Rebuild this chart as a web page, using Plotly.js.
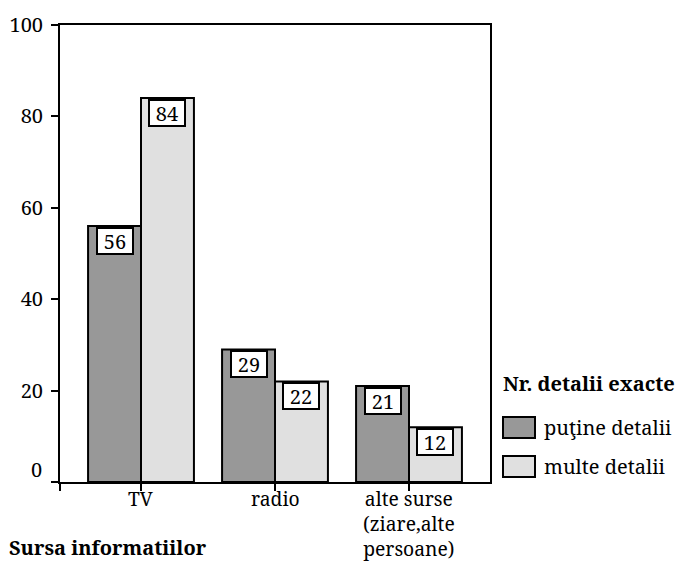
<!DOCTYPE html>
<html>
<head>
<meta charset="utf-8">
<script src="https://cdn.plot.ly/plotly-3.0.1.min.js"></script>
<style>
  html, body { margin: 0; padding: 0; background: #ffffff; }
  #chart { width: 677px; height: 561px; }
</style>
</head>
<body>
<div id="chart"></div>
<script>
// Sursa informatiilor vs. numarul de detalii exacte
const categories = ['TV', 'radio', 'alte surse<br>(ziare,alte<br>persoane)'];
const seriesNames = ['puţine detalii', 'multe detalii'];
const putineDetalii = [56, 29, 21];
const multeDetalii = [84, 22, 12];
const yTickValues = [0, 20, 40, 60, 80, 100];
const legendTitle = 'Nr. detalii exacte';
const xTitle = 'Sursa informatiilor';

const FONT = 'Noto Serif';
const FS = 20;
const colors = ['#989898', '#e0e0e0'];

// plot-area geometry (pixels)
const W = 677, H = 561;
const L = 60, R = 490, T = 25, B = 482.5;
const px = x => (x - L) / (R - L);
const py = y => (B - y) / (B - T);

const xPos = categories.map((_, i) => i);
const series = [putineDetalii, multeDetalii];

const traces = series.map((vals, k) => ({
  type: 'bar',
  x: xPos,
  y: vals,
  name: seriesNames[k],
  marker: { color: colors[k], line: { color: '#000', width: 2 } },
  hoverinfo: 'skip',
  showlegend: false
}));

const gap = 0.21;
const barW = (1 - gap) / 2;
const annotations = [];

// value boxes hanging from the top of each bar
series.forEach((vals, k) => {
  const off = (k === 0 ? -1 : 1) * barW / 2;
  vals.forEach((v, i) => {
    annotations.push({
      x: xPos[i] + off, y: v, xref: 'x', yref: 'y',
      text: String(v), showarrow: false,
      xanchor: 'center', yanchor: 'top', yshift: -1,
      width: 30, height: 20, borderpad: 2, borderwidth: 2,
      bordercolor: '#000', bgcolor: '#fff',
      font: { family: FONT, size: FS, color: '#000' }
    });
  });
});

// category labels under their ticks
categories.forEach((c, i) => {
  annotations.push({
    x: xPos[i], xref: 'x', y: py(485), yref: 'paper',
    text: c, showarrow: false, xanchor: 'center', yanchor: 'top',
    borderpad: 0,
    font: { family: FONT, size: 19.3, color: '#000' }
  });
});

// zero label sits a little above the baseline
annotations.push({
  x: px(44), xref: 'paper', y: py(470), yref: 'paper',
  text: String(yTickValues[0]), showarrow: false, xanchor: 'right', yanchor: 'middle',
  font: { family: FONT, size: FS, color: '#000' }
});

// axis title
annotations.push({
  x: px(8), xref: 'paper', y: py(548), yref: 'paper',
  text: '<b>' + xTitle + '</b>', showarrow: false, xanchor: 'left', yanchor: 'middle',
  height: 22, borderpad: 0,
  font: { family: FONT, size: FS, color: '#000' }
});

// legend
annotations.push({
  x: px(501), xref: 'paper', y: py(384), yref: 'paper',
  text: '<b>' + legendTitle + '</b>', showarrow: false, xanchor: 'left', yanchor: 'middle',
  font: { family: FONT, size: FS, color: '#000' }
});
const legendRows = [428, 467];
const shapes = [];
seriesNames.forEach((n, k) => {
  const cy = legendRows[k];
  shapes.push({
    type: 'rect', xref: 'paper', yref: 'paper',
    x0: px(503), x1: px(535), y0: py(cy + 10.5), y1: py(cy - 10.5),
    fillcolor: colors[k], line: { color: '#000', width: 2 }
  });
  annotations.push({
    x: px(542), xref: 'paper', y: py(cy), yref: 'paper',
    text: n, showarrow: false, xanchor: 'left', yanchor: 'middle',
    font: { family: FONT, size: FS, color: '#000' }
  });
});

const xEdge = 81 / 134;

const layout = {
  width: W, height: H,
  margin: { l: L, r: W - R, t: T, b: H - B, pad: 0 },
  paper_bgcolor: '#fff', plot_bgcolor: '#fff',
  font: { family: FONT, size: FS, color: '#000' },
  barmode: 'group', bargap: gap, bargroupgap: 0,
  showlegend: false,
  xaxis: {
    range: [-xEdge, xPos[xPos.length - 1] + xEdge],
    tickmode: 'array', tickvals: [-xEdge].concat(xPos),
    showticklabels: false,
    ticks: 'outside', ticklen: 7, tickwidth: 2, tickcolor: '#000',
    showline: true, linecolor: '#000', linewidth: 2, mirror: true,
    showgrid: false, zeroline: false, fixedrange: true
  },
  yaxis: {
    range: [0, 100],
    tickmode: 'array', tickvals: yTickValues,
    ticktext: yTickValues.map((v, i) => i === 0 ? '' : String(v)),
    ticks: 'outside', ticklen: 7, tickwidth: 2, tickcolor: '#000',
    ticklabelstandoff: 4,
    tickfont: { family: FONT, size: FS, color: '#000' },
    showline: true, linecolor: '#000', linewidth: 2, mirror: true,
    showgrid: false, zeroline: false, fixedrange: true
  },
  annotations: annotations,
  shapes: shapes
};

Plotly.newPlot('chart', traces, layout, { displayModeBar: false, staticPlot: true });
</script>
</body>
</html>
